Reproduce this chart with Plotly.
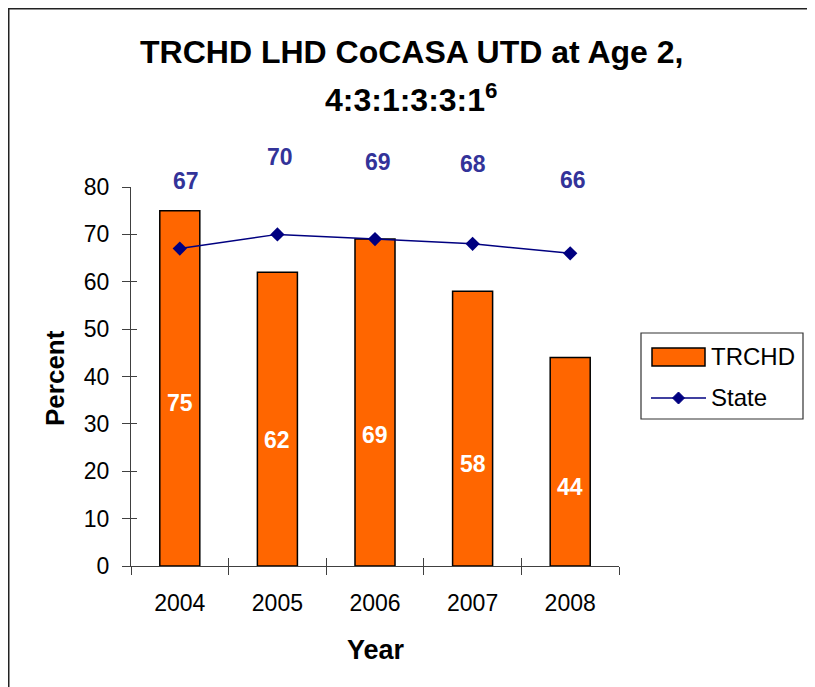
import plotly.graph_objects as go

years = ["2004", "2005", "2006", "2007", "2008"]
trchd = [75, 62, 69, 58, 44]
state = [67, 70, 69, 68, 66]
y_ticks = [0, 10, 20, 30, 40, 50, 60, 70, 80]

# The page body adds an 8px margin, so the figure is drawn 8px in from the corner.
OFF = 8
W, H = 815 - OFF, 687 - OFF
# reference plot-area edges in page pixels
L_ref, R_ref, T_ref, B_ref = 131, 619, 187, 566
L, R, T, B = L_ref - OFF, R_ref - OFF, T_ref - OFF, B_ref - OFF
def px2x(px):
    return (px - L_ref) / (R_ref - L_ref)
def px2y(py):
    return (B_ref - py) / (B_ref - T_ref)

FONT = "Liberation Sans, Arial, sans-serif"
ORANGE = "#FF6600"
NAVY = "#000080"
LABEL_BLUE = "#333399"

fig = go.Figure()
fig.add_trace(go.Bar(
    x=years, y=trchd, name="TRCHD",
    marker=dict(color=ORANGE, line=dict(color="black", width=1.5)),
    showlegend=False,
))
fig.add_trace(go.Scatter(
    x=years, y=state, name="State", mode="lines+markers",
    line=dict(color=NAVY, width=1.5),
    marker=dict(symbol="diamond", size=11, color=NAVY),
    showlegend=False,
))

annotations = []
# bar value labels (white bold, inside bars)
bar_label_frac = [0.46, 0.43, 0.40, 0.37, 0.38]
for i, (v, f) in enumerate(zip(trchd, bar_label_frac)):
    annotations.append(dict(x=i, y=v * f, xref="x", yref="y", text=f"<b>{v}</b>",
                            xanchor="center", yanchor="middle",
                            showarrow=False, font=dict(family=FONT, size=23, color="white")))
# state value labels (blue bold, above the line)
state_label_shift = [68, 77, 77, 80, 73]
state_label_dx = [6, 3, 3, 0, 3]
for i, (v, s, dx) in enumerate(zip(state, state_label_shift, state_label_dx)):
    annotations.append(dict(x=i, y=v, xref="x", yref="y", yshift=s, xshift=dx, text=f"<b>{v}</b>",
                            xanchor="center", yanchor="middle",
                            showarrow=False, font=dict(family=FONT, size=23, color=LABEL_BLUE)))

def paper_text(px, py, text, size, bold=True, xanchor="center", angle=0):
    return dict(x=px2x(px), y=px2y(py), xref="paper", yref="paper",
                xanchor=xanchor, yanchor="middle", textangle=angle,
                text=f"<b>{text}</b>" if bold else text, showarrow=False,
                font=dict(family=FONT, size=size, color="black"))

# title
annotations.append(paper_text(411, 52, "TRCHD LHD CoCASA UTD at Age 2,", 32))
annotations.append(paper_text(411, 98, "4:3:1:3:3:1<sup>6</sup>", 32))
# axis titles
annotations.append(paper_text(55, 378, "Percent", 26, angle=-90))
annotations.append(paper_text(376, 650, "Year", 27))
# legend texts
annotations.append(paper_text(709, 356, "TRCHD", 24, bold=False, xanchor="left"))
annotations.append(paper_text(709, 397, "State", 24, bold=False, xanchor="left"))

shapes = [
    # outer chart border
    dict(type="rect", xref="paper", yref="paper", x0=px2x(8.5), x1=px2x(811), y0=px2y(700), y1=px2y(8.5),
         line=dict(color="#222222", width=2), fillcolor="rgba(0,0,0,0)", layer="below"),
    # legend box
    dict(type="rect", xref="paper", yref="paper", x0=px2x(641), x1=px2x(803), y0=px2y(419), y1=px2y(333),
         line=dict(color="#333333", width=1.2), fillcolor="white"),
    # legend bar swatch
    dict(type="rect", xref="paper", yref="paper", x0=px2x(652), x1=px2x(705), y0=px2y(366), y1=px2y(348),
         line=dict(color="black", width=1.5), fillcolor=ORANGE),
    # legend line swatch
    dict(type="line", xref="paper", yref="paper", x0=px2x(651), x1=px2x(706), y0=px2y(398), y1=px2y(398),
         line=dict(color=NAVY, width=1.5)),
    # legend diamond
    dict(type="path", xref="paper", yref="paper", xsizemode="pixel", ysizemode="pixel",
         xanchor=px2x(678.5), yanchor=px2y(398), path="M 0 6 L 6 0 L 0 -6 L -6 0 Z",
         line=dict(color=NAVY, width=1), fillcolor=NAVY),
]

fig.update_layout(
    width=W, height=H,
    margin=dict(l=L, r=W - R, t=T, b=H - B),
    paper_bgcolor="white", plot_bgcolor="white",
    bargap=0.59,
    showlegend=False,
    annotations=annotations,
    shapes=shapes,
    font=dict(family=FONT, size=22, color="black"),
    xaxis=dict(type="category", tickson="boundaries", ticks="outside", ticklen=8,
               tickcolor="#404040", showline=True, linecolor="#404040", linewidth=1,
               showgrid=False, tickfont=dict(family=FONT, size=23, color="black"),
               ticklabelstandoff=16, range=[-0.5, 4.5], fixedrange=True),
    yaxis=dict(range=[0, 80], tickvals=y_ticks, ticks="outside", ticklen=8,
               tickcolor="#404040", showline=True, linecolor="#404040", linewidth=1,
               showgrid=False, zeroline=False, tickfont=dict(family=FONT, size=23, color="black"),
               ticklabelstandoff=8, fixedrange=True),
    # overlay axes to give crossing tick marks
    xaxis2=dict(overlaying="x", anchor="y", side="bottom", range=[-0.5, 4.5],
                tickvals=[-0.5, 0.5, 1.5, 2.5, 3.5, 4.5], ticks="inside", ticklen=8,
                tickcolor="#404040", showticklabels=False, showgrid=False, showline=False,
                zeroline=False, fixedrange=True),
    yaxis2=dict(overlaying="y", anchor="x", side="left", range=[0, 80], tickvals=y_ticks,
                ticks="inside", ticklen=6, tickcolor="#404040", showticklabels=False,
                showgrid=False, showline=False, zeroline=False, fixedrange=True),
)
# invisible trace so the overlay axes are drawn
fig.add_trace(go.Scatter(x=[0], y=[0], xaxis="x2", yaxis="y2", mode="markers",
                         marker=dict(opacity=0), showlegend=False, hoverinfo="skip"))

fig.write_html("out.html", config={"displayModeBar": False})
